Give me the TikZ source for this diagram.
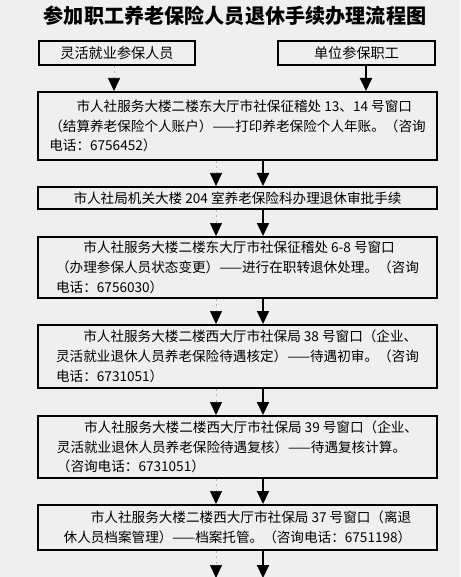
\documentclass[tikz,border=0pt]{standalone}
\usepackage{fontspec}
\newfontfamily\cjk{Noto Sans CJK SC}
\usetikzlibrary{arrows.meta}
\definecolor{bgc}{RGB}{239,239,239}
\begin{document}
\begin{tikzpicture}[x=0.75pt,y=-0.75pt,
  box/.style={draw=black,line width=1.5pt,fill=bgc,inner sep=0pt,align=left,
    font=\cjk\fontsize{10.2}{14.8}\selectfont,minimum width=299.25pt},
  topbox/.style={draw=black,line width=1.5pt,fill=bgc,inner sep=0pt,
    font=\cjk\fontsize{10.6}{14}\selectfont,minimum height=18pt},
  solidarr/.style={line width=1.5pt,-{Triangle[width=9pt,length=9.75pt]}},
  dasharr/.style={line width=0.5pt,gray!60,dash pattern=on 1.5pt off 2.5pt,
    -{Triangle[width=9pt,length=9.75pt,color=black]}},
  titlestyle/.style={font=\cjk\bfseries\fontsize{15.1}{17}\selectfont,inner sep=0pt}
]
\useasboundingbox (0,0) rectangle (460,577);
\fill[bgc] (0,0) rectangle (460,577);

\node[titlestyle] (title) at (235,16) {参加职工养老保险人员退休手续办理流程图};

\node[topbox,minimum width=117pt] (A) at (117,53) {灵活就业参保人员};
\node[topbox,minimum width=117.75pt] (B) at (356.5,53) {单位参保职工};

\node[box,minimum height=51pt] (b1) at (237.5,126)
 {\hspace*{2em}市人社服务大楼二楼东大厅市社保征稽处 13、14 号窗口\\
  （结算养老保险个人账户）——打印养老保险个人年账。（咨询\\
  电话：6756452）};

\node[box,minimum height=16.5pt,align=center] (b2) at (237.5,198)
 {市人社局机关大楼 204 室养老保险科办理退休审批手续};

\node[box,minimum height=45.75pt] (b3) at (237.5,267.5)
 {\hspace*{2em}市人社服务大楼二楼东大厅市社保征稽处 6-8 号窗口\\
  （办理参保人员状态变更）——进行在职转退休处理。（咨询\\
  电话：6756030）};

\node[box,minimum height=47.25pt] (b4) at (237.5,356.5)
 {\hspace*{2em}市人社服务大楼二楼西大厅市社保局 38 号窗口（企业、\\
  灵活就业退休人员养老保险待遇核定）——待遇初审。（咨询\\
  电话：6731051）};

\node[box,minimum height=46.5pt] (b5) at (237.5,447)
 {\hspace*{2em}市人社服务大楼二楼西大厅市社保局 39 号窗口（企业、\\
  灵活就业退休人员养老保险待遇复核）——待遇复核计算。\\
  （咨询电话：6731051）};

\node[box,minimum height=33.75pt] (b6) at (237.5,527.5)
 {\hspace*{2em}市人社服务大楼二楼西大厅市社保局 37 号窗口（离退\\
  休人员档案管理）——档案托管。（咨询电话：6751198）};

\coordinate (L) at (216,0);
\coordinate (R) at (263,0);
\coordinate (TL) at (114,0);
\coordinate (TR) at (366,0);
\coordinate (end) at (0,578);

\draw[dasharr] (A.south -| TL) -- (b1.north -| TL);
\draw[solidarr] (B.south -| TR) -- (b1.north -| TR);

\foreach \u/\v in {b1/b2,b2/b3,b3/b4,b4/b5,b5/b6}{
  \draw[dasharr] (\u.south -| L) -- (\v.north -| L);
  \draw[solidarr] (\u.south -| R) -- (\v.north -| R);
}
\draw[dasharr] (b6.south -| L) -- (end -| L);
\draw[solidarr] (b6.south -| R) -- (end -| R);
\end{tikzpicture}
\end{document}
